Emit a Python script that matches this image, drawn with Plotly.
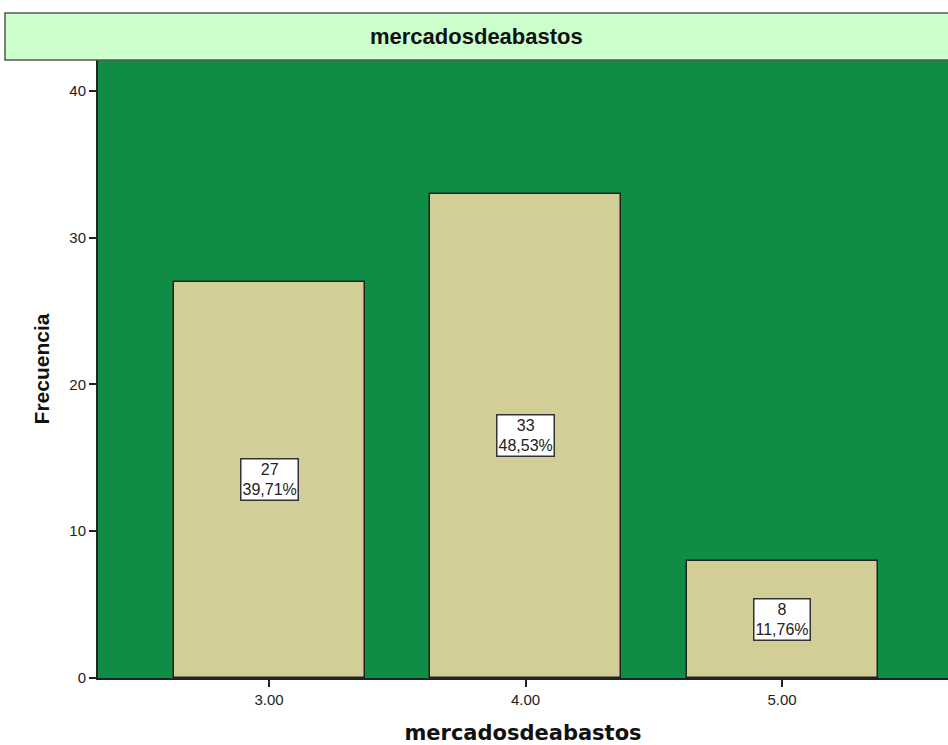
import plotly.graph_objects as go

categories = [3.0, 4.0, 5.0]
cat_labels = ["3.00", "4.00", "5.00"]
counts = [27, 33, 8]
percents = ["39,71%", "48,53%", "11,76%"]
y_ticks = [0, 10, 20, 30, 40]

W, H = 948, 745
L, R, T, B = 98, 0, 60, 67
pw, ph = W - L - R, H - T - B
ARIAL = "Liberation Sans, Arial"

fig = go.Figure()
fig.add_trace(go.Bar(
    x=categories, y=counts, width=0.745,
    marker=dict(color="#D3CE98", line=dict(color="#222222", width=1.5)),
    hoverinfo="skip",
))

for c, n, p in zip(categories, counts, percents):
    fig.add_annotation(
        x=c, y=n / 2, text=f"{n}<br>{p}", showarrow=False,
        xanchor="center", yanchor="middle",
        font=dict(family=ARIAL, size=16, color="#222222"),
        bgcolor="white", bordercolor="#333333", borderwidth=1.5, borderpad=1,
    )

# title band
band_x0 = (5 - L) / pw
band_y1 = 1 + (T - 13) / ph
fig.add_shape(type="rect", xref="paper", yref="paper",
              x0=band_x0, x1=1.01, y0=1.0, y1=band_y1,
              fillcolor="#CCFFCC", line=dict(color="#555555", width=1.5), layer="above")
fig.add_annotation(xref="paper", yref="paper",
                   x=(band_x0 + 1.0) / 2, y=(1.0 + band_y1) / 2,
                   xanchor="center", yanchor="middle",
                   text="<b>mercadosdeabastos</b>", showarrow=False,
                   font=dict(family=ARIAL, size=22, color="#111111"))

fig.update_layout(
    width=W, height=H,
    margin=dict(l=L, r=R, t=T, b=B, pad=0),
    paper_bgcolor="white", plot_bgcolor="#0F8C46",
    showlegend=False,
    font=dict(family=ARIAL, size=15, color="#222222"),
    xaxis=dict(
        range=[2.333, 5.647], tickvals=categories, ticktext=cat_labels,
        ticks="outside", ticklen=7, tickcolor="#222222", tickwidth=1.5,
        tickfont=dict(size=15),
        showgrid=False, zeroline=False, showline=True, linecolor="#222222", linewidth=2,
        title=dict(text="<b>mercadosdeabastos</b>",
                   font=dict(family="DejaVu Sans", size=21, color="#111111"), standoff=20),
    ),
    yaxis=dict(
        range=[0, 42.1], tickvals=y_ticks,
        ticks="outside", ticklen=7, tickcolor="#222222", tickwidth=1.5,
        tickfont=dict(size=15),
        showgrid=False, zeroline=False, showline=True, linecolor="#222222", linewidth=2,
        title=dict(text="<b>Frecuencia</b>",
                   font=dict(family=ARIAL, size=21, color="#111111"), standoff=14),
    ),
    bargap=0,
)

fig.write_html("out.html")
